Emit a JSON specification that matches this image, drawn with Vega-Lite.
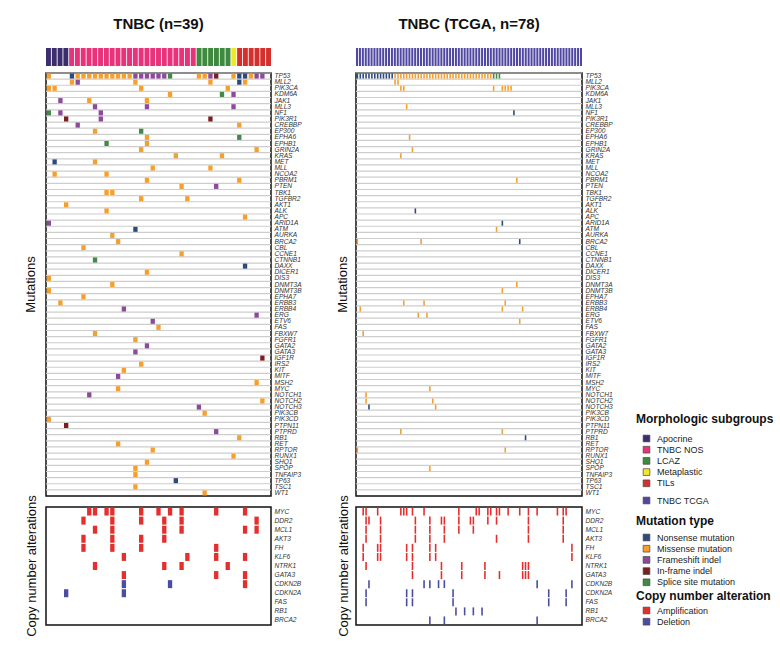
{
  "$schema": "https://vega.github.io/schema/vega-lite/v6.json",
  "padding": {"left": 24, "top": 17, "right": 5, "bottom": 5},
  "background": "white",
  "config": {
    "font": "Liberation Sans",
    "view": {"stroke": "#111111", "strokeWidth": 1.5},
    "axis": {"labelFont": "Liberation Sans", "labelFontStyle": "italic", "labelFontSize": 6.6, "labelColor": "#333333", "ticks": false, "domain": false, "grid": false, "labelPadding": 3, "title": null},
    "legend": {"titleFont": "Liberation Sans", "titleFontSize": 12, "titleFontWeight": "bold", "titleColor": "#111111", "labelFont": "Liberation Sans", "labelFontSize": 9, "labelColor": "#222222", "symbolType": "square", "symbolSize": 45, "symbolStrokeColor": "#444444", "symbolStrokeWidth": 0.7, "symbolOffset": 6, "labelOffset": 6, "rowPadding": 0.2, "titlePadding": 8, "orient": "none"},
    "title": {"font": "Liberation Sans", "color": "#111111"}
  },
  "datasets": {
    "morphL": [
      {"c":0,"grp":"Apocrine"},{"c":1,"grp":"Apocrine"},{"c":2,"grp":"Apocrine"},{"c":3,"grp":"Apocrine"},
      {"c":4,"grp":"TNBC NOS"},{"c":5,"grp":"TNBC NOS"},{"c":6,"grp":"TNBC NOS"},{"c":7,"grp":"TNBC NOS"},{"c":8,"grp":"TNBC NOS"},{"c":9,"grp":"TNBC NOS"},{"c":10,"grp":"TNBC NOS"},{"c":11,"grp":"TNBC NOS"},{"c":12,"grp":"TNBC NOS"},{"c":13,"grp":"TNBC NOS"},{"c":14,"grp":"TNBC NOS"},{"c":15,"grp":"TNBC NOS"},{"c":16,"grp":"TNBC NOS"},{"c":17,"grp":"TNBC NOS"},{"c":18,"grp":"TNBC NOS"},{"c":19,"grp":"TNBC NOS"},{"c":20,"grp":"TNBC NOS"},{"c":21,"grp":"TNBC NOS"},{"c":22,"grp":"TNBC NOS"},{"c":23,"grp":"TNBC NOS"},{"c":24,"grp":"TNBC NOS"},{"c":25,"grp":"TNBC NOS"},
      {"c":26,"grp":"LCAZ"},{"c":27,"grp":"LCAZ"},{"c":28,"grp":"LCAZ"},{"c":29,"grp":"LCAZ"},{"c":30,"grp":"LCAZ"},{"c":31,"grp":"LCAZ"},
      {"c":32,"grp":"Metaplastic"},
      {"c":33,"grp":"TILs"},{"c":34,"grp":"TILs"},{"c":35,"grp":"TILs"},{"c":36,"grp":"TILs"},{"c":37,"grp":"TILs"},{"c":38,"grp":"TILs"}
    ],
    "morphR": [
      {"c":0,"grp":"TNBC TCGA"},{"c":1,"grp":"TNBC TCGA"},{"c":2,"grp":"TNBC TCGA"},{"c":3,"grp":"TNBC TCGA"},{"c":4,"grp":"TNBC TCGA"},{"c":5,"grp":"TNBC TCGA"},{"c":6,"grp":"TNBC TCGA"},{"c":7,"grp":"TNBC TCGA"},{"c":8,"grp":"TNBC TCGA"},{"c":9,"grp":"TNBC TCGA"},
      {"c":10,"grp":"TNBC TCGA"},{"c":11,"grp":"TNBC TCGA"},{"c":12,"grp":"TNBC TCGA"},{"c":13,"grp":"TNBC TCGA"},{"c":14,"grp":"TNBC TCGA"},{"c":15,"grp":"TNBC TCGA"},{"c":16,"grp":"TNBC TCGA"},{"c":17,"grp":"TNBC TCGA"},{"c":18,"grp":"TNBC TCGA"},{"c":19,"grp":"TNBC TCGA"},
      {"c":20,"grp":"TNBC TCGA"},{"c":21,"grp":"TNBC TCGA"},{"c":22,"grp":"TNBC TCGA"},{"c":23,"grp":"TNBC TCGA"},{"c":24,"grp":"TNBC TCGA"},{"c":25,"grp":"TNBC TCGA"},{"c":26,"grp":"TNBC TCGA"},{"c":27,"grp":"TNBC TCGA"},{"c":28,"grp":"TNBC TCGA"},{"c":29,"grp":"TNBC TCGA"},
      {"c":30,"grp":"TNBC TCGA"},{"c":31,"grp":"TNBC TCGA"},{"c":32,"grp":"TNBC TCGA"},{"c":33,"grp":"TNBC TCGA"},{"c":34,"grp":"TNBC TCGA"},{"c":35,"grp":"TNBC TCGA"},{"c":36,"grp":"TNBC TCGA"},{"c":37,"grp":"TNBC TCGA"},{"c":38,"grp":"TNBC TCGA"},{"c":39,"grp":"TNBC TCGA"},
      {"c":40,"grp":"TNBC TCGA"},{"c":41,"grp":"TNBC TCGA"},{"c":42,"grp":"TNBC TCGA"},{"c":43,"grp":"TNBC TCGA"},{"c":44,"grp":"TNBC TCGA"},{"c":45,"grp":"TNBC TCGA"},{"c":46,"grp":"TNBC TCGA"},{"c":47,"grp":"TNBC TCGA"},{"c":48,"grp":"TNBC TCGA"},{"c":49,"grp":"TNBC TCGA"},
      {"c":50,"grp":"TNBC TCGA"},{"c":51,"grp":"TNBC TCGA"},{"c":52,"grp":"TNBC TCGA"},{"c":53,"grp":"TNBC TCGA"},{"c":54,"grp":"TNBC TCGA"},{"c":55,"grp":"TNBC TCGA"},{"c":56,"grp":"TNBC TCGA"},{"c":57,"grp":"TNBC TCGA"},{"c":58,"grp":"TNBC TCGA"},{"c":59,"grp":"TNBC TCGA"},
      {"c":60,"grp":"TNBC TCGA"},{"c":61,"grp":"TNBC TCGA"},{"c":62,"grp":"TNBC TCGA"},{"c":63,"grp":"TNBC TCGA"},{"c":64,"grp":"TNBC TCGA"},{"c":65,"grp":"TNBC TCGA"},{"c":66,"grp":"TNBC TCGA"},{"c":67,"grp":"TNBC TCGA"},{"c":68,"grp":"TNBC TCGA"},{"c":69,"grp":"TNBC TCGA"},
      {"c":70,"grp":"TNBC TCGA"},{"c":71,"grp":"TNBC TCGA"},{"c":72,"grp":"TNBC TCGA"},{"c":73,"grp":"TNBC TCGA"},{"c":74,"grp":"TNBC TCGA"},{"c":75,"grp":"TNBC TCGA"},{"c":76,"grp":"TNBC TCGA"},{"c":77,"grp":"TNBC TCGA"}
    ],
    "genes": [
      {"g":"TP53"},{"g":"MLL2"},{"g":"PIK3CA"},{"g":"KDM6A"},{"g":"JAK1"},{"g":"MLL3"},{"g":"NF1"},{"g":"PIK3R1"},{"g":"CREBBP"},{"g":"EP300"},{"g":"EPHA6"},{"g":"EPHB1"},{"g":"GRIN2A"},{"g":"KRAS"},{"g":"MET"},{"g":"MLL"},{"g":"NCOA2"},{"g":"PBRM1"},{"g":"PTEN"},{"g":"TBK1"},{"g":"TGFBR2"},{"g":"AKT1"},{"g":"ALK"},{"g":"APC"},{"g":"ARID1A"},{"g":"ATM"},{"g":"AURKA"},{"g":"BRCA2"},{"g":"CBL"},{"g":"CCNE1"},{"g":"CTNNB1"},{"g":"DAXX"},{"g":"DICER1"},{"g":"DIS3"},{"g":"DNMT3A"},{"g":"DNMT3B"},{"g":"EPHA7"},{"g":"ERBB3"},{"g":"ERBB4"},{"g":"ERG"},{"g":"ETV6"},{"g":"FAS"},{"g":"FBXW7"},{"g":"FGFR1"},{"g":"GATA2"},{"g":"GATA3"},{"g":"IGF1R"},{"g":"IRS2"},{"g":"KIT"},{"g":"MITF"},{"g":"MSH2"},{"g":"MYC"},{"g":"NOTCH1"},{"g":"NOTCH2"},{"g":"NOTCH3"},{"g":"PIK3CB"},{"g":"PIK3CD"},{"g":"PTPN11"},{"g":"PTPRD"},{"g":"RB1"},{"g":"RET"},{"g":"RPTOR"},{"g":"RUNX1"},{"g":"SHQ1"},{"g":"SPOP"},{"g":"TNFAIP3"},{"g":"TP63"},{"g":"TSC1"},{"g":"WT1"}
    ],
    "mutL": [
      {"g":"TP53","c":0,"t":"Missense mutation"},{"g":"TP53","c":4,"t":"Nonsense mutation"},{"g":"TP53","c":5,"t":"Missense mutation"},{"g":"TP53","c":6,"t":"Missense mutation"},{"g":"TP53","c":7,"t":"Missense mutation"},{"g":"TP53","c":8,"t":"Missense mutation"},{"g":"TP53","c":9,"t":"Missense mutation"},{"g":"TP53","c":10,"t":"Missense mutation"},{"g":"TP53","c":11,"t":"Missense mutation"},{"g":"TP53","c":12,"t":"Missense mutation"},{"g":"TP53","c":13,"t":"Missense mutation"},{"g":"TP53","c":14,"t":"Missense mutation"},
      {"g":"TP53","c":15,"t":"Frameshift indel"},{"g":"TP53","c":16,"t":"Frameshift indel"},{"g":"TP53","c":17,"t":"Frameshift indel"},{"g":"TP53","c":18,"t":"Frameshift indel"},{"g":"TP53","c":19,"t":"Frameshift indel"},{"g":"TP53","c":20,"t":"Frameshift indel"},{"g":"TP53","c":21,"t":"Splice site mutation"},
      {"g":"TP53","c":26,"t":"Missense mutation"},{"g":"TP53","c":27,"t":"Missense mutation"},{"g":"TP53","c":28,"t":"Frameshift indel"},{"g":"TP53","c":29,"t":"In-frame indel"},{"g":"TP53","c":32,"t":"Missense mutation"},{"g":"TP53","c":33,"t":"Nonsense mutation"},{"g":"TP53","c":34,"t":"Nonsense mutation"},{"g":"TP53","c":35,"t":"Missense mutation"},{"g":"TP53","c":36,"t":"Frameshift indel"},{"g":"TP53","c":37,"t":"Frameshift indel"},
      {"g":"MLL2","c":4,"t":"Missense mutation"},{"g":"MLL2","c":5,"t":"Frameshift indel"},{"g":"MLL2","c":15,"t":"Missense mutation"},{"g":"MLL2","c":28,"t":"Missense mutation"},{"g":"MLL2","c":33,"t":"Nonsense mutation"},{"g":"MLL2","c":34,"t":"Missense mutation"},
      {"g":"PIK3CA","c":0,"t":"Missense mutation"},{"g":"PIK3CA","c":1,"t":"Missense mutation"},{"g":"PIK3CA","c":16,"t":"Missense mutation"},{"g":"PIK3CA","c":31,"t":"Missense mutation"},
      {"g":"KDM6A","c":21,"t":"Missense mutation"},{"g":"KDM6A","c":30,"t":"Splice site mutation"},{"g":"KDM6A","c":32,"t":"Frameshift indel"},
      {"g":"JAK1","c":2,"t":"Frameshift indel"},{"g":"JAK1","c":7,"t":"Missense mutation"},{"g":"JAK1","c":17,"t":"Missense mutation"},
      {"g":"MLL3","c":8,"t":"Frameshift indel"},{"g":"MLL3","c":17,"t":"Frameshift indel"},{"g":"MLL3","c":32,"t":"Frameshift indel"},
      {"g":"NF1","c":0,"t":"Splice site mutation"},{"g":"NF1","c":2,"t":"Frameshift indel"},{"g":"NF1","c":9,"t":"Frameshift indel"},
      {"g":"PIK3R1","c":3,"t":"In-frame indel"},{"g":"PIK3R1","c":9,"t":"Frameshift indel"},{"g":"PIK3R1","c":28,"t":"In-frame indel"},
      {"g":"CREBBP","c":5,"t":"Frameshift indel"},{"g":"CREBBP","c":33,"t":"Missense mutation"},
      {"g":"EP300","c":8,"t":"Missense mutation"},{"g":"EP300","c":16,"t":"Splice site mutation"},
      {"g":"EPHA6","c":17,"t":"Missense mutation"},{"g":"EPHA6","c":33,"t":"Splice site mutation"},
      {"g":"EPHB1","c":10,"t":"Splice site mutation"},{"g":"EPHB1","c":17,"t":"Missense mutation"},
      {"g":"GRIN2A","c":16,"t":"Missense mutation"},{"g":"GRIN2A","c":36,"t":"Missense mutation"},
      {"g":"KRAS","c":22,"t":"Missense mutation"},{"g":"KRAS","c":30,"t":"Missense mutation"},
      {"g":"MET","c":1,"t":"Nonsense mutation"},{"g":"MET","c":8,"t":"Missense mutation"},
      {"g":"MLL","c":18,"t":"Missense mutation"},{"g":"MLL","c":28,"t":"Missense mutation"},
      {"g":"NCOA2","c":1,"t":"Missense mutation"},{"g":"NCOA2","c":10,"t":"Missense mutation"},
      {"g":"PBRM1","c":17,"t":"Missense mutation"},{"g":"PBRM1","c":33,"t":"Missense mutation"},
      {"g":"PTEN","c":23,"t":"Missense mutation"},{"g":"PTEN","c":29,"t":"Frameshift indel"},
      {"g":"TBK1","c":10,"t":"Missense mutation"},{"g":"TBK1","c":11,"t":"Missense mutation"},
      {"g":"TGFBR2","c":16,"t":"Missense mutation"},{"g":"TGFBR2","c":24,"t":"Missense mutation"},
      {"g":"AKT1","c":3,"t":"Missense mutation"},
      {"g":"ALK","c":10,"t":"Missense mutation"},
      {"g":"APC","c":34,"t":"Missense mutation"},
      {"g":"ARID1A","c":0,"t":"Frameshift indel"},
      {"g":"ATM","c":15,"t":"Nonsense mutation"},
      {"g":"AURKA","c":11,"t":"Missense mutation"},
      {"g":"BRCA2","c":12,"t":"Missense mutation"},
      {"g":"CBL","c":6,"t":"Missense mutation"},
      {"g":"CCNE1","c":23,"t":"Missense mutation"},
      {"g":"CTNNB1","c":8,"t":"Splice site mutation"},
      {"g":"DAXX","c":34,"t":"Nonsense mutation"},
      {"g":"DICER1","c":17,"t":"Missense mutation"},
      {"g":"DIS3","c":0,"t":"Missense mutation"},
      {"g":"DNMT3A","c":11,"t":"Missense mutation"},
      {"g":"DNMT3B","c":0,"t":"Missense mutation"},
      {"g":"EPHA7","c":6,"t":"Missense mutation"},
      {"g":"ERBB3","c":2,"t":"Missense mutation"},
      {"g":"ERBB4","c":13,"t":"Frameshift indel"},
      {"g":"ERG","c":36,"t":"Frameshift indel"},
      {"g":"ETV6","c":18,"t":"Frameshift indel"},
      {"g":"FAS","c":19,"t":"Missense mutation"},
      {"g":"FBXW7","c":8,"t":"Missense mutation"},
      {"g":"FGFR1","c":15,"t":"Missense mutation"},
      {"g":"GATA2","c":17,"t":"Frameshift indel"},
      {"g":"GATA3","c":15,"t":"Frameshift indel"},
      {"g":"IGF1R","c":37,"t":"In-frame indel"},
      {"g":"IRS2","c":16,"t":"Missense mutation"},
      {"g":"KIT","c":13,"t":"Missense mutation"},
      {"g":"MITF","c":12,"t":"Frameshift indel"},
      {"g":"MSH2","c":36,"t":"Missense mutation"},
      {"g":"MYC","c":12,"t":"Missense mutation"},
      {"g":"NOTCH1","c":7,"t":"Frameshift indel"},
      {"g":"NOTCH2","c":37,"t":"Missense mutation"},
      {"g":"NOTCH3","c":26,"t":"Frameshift indel"},
      {"g":"PIK3CB","c":27,"t":"Missense mutation"},
      {"g":"PIK3CD","c":0,"t":"Missense mutation"},
      {"g":"PTPN11","c":3,"t":"In-frame indel"},
      {"g":"PTPRD","c":29,"t":"Frameshift indel"},
      {"g":"RB1","c":33,"t":"Missense mutation"},
      {"g":"RET","c":12,"t":"Missense mutation"},
      {"g":"RPTOR","c":18,"t":"Missense mutation"},
      {"g":"RUNX1","c":32,"t":"Missense mutation"},
      {"g":"SHQ1","c":17,"t":"Missense mutation"},
      {"g":"SPOP","c":15,"t":"Missense mutation"},
      {"g":"TNFAIP3","c":15,"t":"Missense mutation"},
      {"g":"TP63","c":22,"t":"Nonsense mutation"},
      {"g":"TSC1","c":15,"t":"Missense mutation"},
      {"g":"WT1","c":27,"t":"Missense mutation"}
    ],
    "mutR": [
      {"g":"TP53","c":0,"t":"Nonsense mutation"},{"g":"TP53","c":1,"t":"Nonsense mutation"},{"g":"TP53","c":2,"t":"Nonsense mutation"},{"g":"TP53","c":3,"t":"Nonsense mutation"},{"g":"TP53","c":4,"t":"Nonsense mutation"},{"g":"TP53","c":5,"t":"Nonsense mutation"},{"g":"TP53","c":6,"t":"Nonsense mutation"},{"g":"TP53","c":7,"t":"Nonsense mutation"},{"g":"TP53","c":8,"t":"Nonsense mutation"},{"g":"TP53","c":9,"t":"Nonsense mutation"},{"g":"TP53","c":10,"t":"Nonsense mutation"},{"g":"TP53","c":11,"t":"Nonsense mutation"},{"g":"TP53","c":12,"t":"Nonsense mutation"},
      {"g":"TP53","c":13,"t":"Missense mutation"},{"g":"TP53","c":14,"t":"Missense mutation"},{"g":"TP53","c":15,"t":"Missense mutation"},{"g":"TP53","c":16,"t":"Missense mutation"},{"g":"TP53","c":17,"t":"Missense mutation"},{"g":"TP53","c":18,"t":"Missense mutation"},{"g":"TP53","c":19,"t":"Missense mutation"},{"g":"TP53","c":20,"t":"Missense mutation"},{"g":"TP53","c":21,"t":"Missense mutation"},{"g":"TP53","c":22,"t":"Missense mutation"},{"g":"TP53","c":23,"t":"Missense mutation"},{"g":"TP53","c":24,"t":"Missense mutation"},{"g":"TP53","c":25,"t":"Missense mutation"},{"g":"TP53","c":26,"t":"Missense mutation"},{"g":"TP53","c":27,"t":"Missense mutation"},{"g":"TP53","c":28,"t":"Missense mutation"},{"g":"TP53","c":29,"t":"Missense mutation"},
      {"g":"TP53","c":30,"t":"Missense mutation"},{"g":"TP53","c":31,"t":"Missense mutation"},{"g":"TP53","c":32,"t":"Missense mutation"},{"g":"TP53","c":33,"t":"Missense mutation"},{"g":"TP53","c":34,"t":"Missense mutation"},{"g":"TP53","c":35,"t":"Missense mutation"},{"g":"TP53","c":36,"t":"Missense mutation"},{"g":"TP53","c":37,"t":"Missense mutation"},{"g":"TP53","c":38,"t":"Missense mutation"},{"g":"TP53","c":39,"t":"Missense mutation"},{"g":"TP53","c":40,"t":"Missense mutation"},{"g":"TP53","c":41,"t":"Missense mutation"},{"g":"TP53","c":42,"t":"Missense mutation"},{"g":"TP53","c":43,"t":"Missense mutation"},{"g":"TP53","c":44,"t":"Missense mutation"},{"g":"TP53","c":45,"t":"Missense mutation"},{"g":"TP53","c":46,"t":"Missense mutation"},
      {"g":"TP53","c":47,"t":"Splice site mutation"},{"g":"TP53","c":48,"t":"Splice site mutation"},{"g":"TP53","c":49,"t":"Splice site mutation"},
      {"g":"MLL2","c":13,"t":"Missense mutation"},{"g":"MLL2","c":14,"t":"Missense mutation"},
      {"g":"PIK3CA","c":15,"t":"Missense mutation"},{"g":"PIK3CA","c":16,"t":"Missense mutation"},{"g":"PIK3CA","c":47,"t":"Missense mutation"},{"g":"PIK3CA","c":50,"t":"Missense mutation"},{"g":"PIK3CA","c":51,"t":"Missense mutation"},{"g":"PIK3CA","c":52,"t":"Missense mutation"},{"g":"PIK3CA","c":53,"t":"Missense mutation"},
      {"g":"MLL3","c":17,"t":"Missense mutation"},
      {"g":"NF1","c":54,"t":"Nonsense mutation"},
      {"g":"EPHA6","c":18,"t":"Missense mutation"},
      {"g":"GRIN2A","c":19,"t":"Missense mutation"},
      {"g":"KRAS","c":15,"t":"Missense mutation"},
      {"g":"PBRM1","c":55,"t":"Missense mutation"},
      {"g":"ALK","c":20,"t":"Nonsense mutation"},
      {"g":"ARID1A","c":50,"t":"Nonsense mutation"},
      {"g":"ATM","c":48,"t":"Missense mutation"},
      {"g":"BRCA2","c":0,"t":"Missense mutation"},{"g":"BRCA2","c":22,"t":"Missense mutation"},{"g":"BRCA2","c":56,"t":"Nonsense mutation"},
      {"g":"DNMT3A","c":55,"t":"Missense mutation"},
      {"g":"DNMT3B","c":50,"t":"Missense mutation"},
      {"g":"ERBB3","c":16,"t":"Missense mutation"},{"g":"ERBB3","c":23,"t":"Missense mutation"},{"g":"ERBB3","c":51,"t":"Missense mutation"},
      {"g":"ERBB4","c":1,"t":"Missense mutation"},{"g":"ERBB4","c":50,"t":"Missense mutation"},{"g":"ERBB4","c":57,"t":"Missense mutation"},
      {"g":"ERG","c":21,"t":"Missense mutation"},{"g":"ERG","c":24,"t":"Missense mutation"},
      {"g":"ETV6","c":56,"t":"Missense mutation"},
      {"g":"FBXW7","c":2,"t":"Missense mutation"},
      {"g":"MYC","c":25,"t":"Missense mutation"},
      {"g":"NOTCH1","c":3,"t":"Missense mutation"},
      {"g":"NOTCH2","c":3,"t":"Missense mutation"},{"g":"NOTCH2","c":26,"t":"Missense mutation"},
      {"g":"NOTCH3","c":4,"t":"Nonsense mutation"},{"g":"NOTCH3","c":27,"t":"Missense mutation"},
      {"g":"PTPRD","c":15,"t":"Missense mutation"},{"g":"PTPRD","c":50,"t":"Missense mutation"},
      {"g":"RB1","c":58,"t":"Nonsense mutation"},
      {"g":"RPTOR","c":0,"t":"Missense mutation"},{"g":"RPTOR","c":51,"t":"Missense mutation"},
      {"g":"SPOP","c":25,"t":"Missense mutation"}
    ],
    "cnaL": [
      {"g":"MYC","c":7,"t":"Amplification"},{"g":"MYC","c":8,"t":"Amplification"},{"g":"MYC","c":10,"t":"Amplification"},{"g":"MYC","c":11,"t":"Amplification"},{"g":"MYC","c":16,"t":"Amplification"},{"g":"MYC","c":19,"t":"Amplification"},{"g":"MYC","c":21,"t":"Amplification"},{"g":"MYC","c":23,"t":"Amplification"},{"g":"MYC","c":29,"t":"Amplification"},{"g":"MYC","c":34,"t":"Amplification"},
      {"g":"DDR2","c":6,"t":"Amplification"},{"g":"DDR2","c":11,"t":"Amplification"},{"g":"DDR2","c":16,"t":"Amplification"},{"g":"DDR2","c":20,"t":"Amplification"},{"g":"DDR2","c":23,"t":"Amplification"},{"g":"DDR2","c":36,"t":"Amplification"},
      {"g":"MCL1","c":8,"t":"Amplification"},{"g":"MCL1","c":11,"t":"Amplification"},{"g":"MCL1","c":20,"t":"Amplification"},{"g":"MCL1","c":23,"t":"Amplification"},{"g":"MCL1","c":34,"t":"Amplification"},{"g":"MCL1","c":36,"t":"Amplification"},
      {"g":"AKT3","c":6,"t":"Amplification"},{"g":"AKT3","c":11,"t":"Amplification"},{"g":"AKT3","c":16,"t":"Amplification"},{"g":"AKT3","c":20,"t":"Amplification"},
      {"g":"FH","c":6,"t":"Amplification"},{"g":"FH","c":11,"t":"Amplification"},{"g":"FH","c":16,"t":"Amplification"},{"g":"FH","c":29,"t":"Amplification"},
      {"g":"KLF6","c":13,"t":"Amplification"},{"g":"KLF6","c":24,"t":"Amplification"},{"g":"KLF6","c":29,"t":"Amplification"},{"g":"KLF6","c":34,"t":"Amplification"},
      {"g":"NTRK1","c":8,"t":"Amplification"},{"g":"NTRK1","c":20,"t":"Amplification"},{"g":"NTRK1","c":23,"t":"Amplification"},{"g":"NTRK1","c":31,"t":"Amplification"},
      {"g":"GATA3","c":13,"t":"Amplification"},{"g":"GATA3","c":29,"t":"Amplification"},{"g":"GATA3","c":34,"t":"Amplification"},
      {"g":"CDKN2B","c":13,"t":"Deletion"},{"g":"CDKN2B","c":21,"t":"Deletion"},{"g":"CDKN2B","c":34,"t":"Amplification"},
      {"g":"CDKN2A","c":3,"t":"Deletion"},{"g":"CDKN2A","c":13,"t":"Deletion"}
    ],
    "cnaR": [
      {"g":"MYC","c":2,"t":"Amplification"},{"g":"MYC","c":3,"t":"Amplification"},{"g":"MYC","c":7,"t":"Amplification"},{"g":"MYC","c":15,"t":"Amplification"},{"g":"MYC","c":16,"t":"Amplification"},{"g":"MYC","c":17,"t":"Amplification"},{"g":"MYC","c":19,"t":"Amplification"},{"g":"MYC","c":23,"t":"Amplification"},{"g":"MYC","c":35,"t":"Amplification"},{"g":"MYC","c":41,"t":"Amplification"},{"g":"MYC","c":42,"t":"Amplification"},{"g":"MYC","c":45,"t":"Amplification"},{"g":"MYC","c":46,"t":"Amplification"},{"g":"MYC","c":48,"t":"Amplification"},{"g":"MYC","c":49,"t":"Amplification"},{"g":"MYC","c":52,"t":"Amplification"},{"g":"MYC","c":56,"t":"Amplification"},{"g":"MYC","c":59,"t":"Amplification"},{"g":"MYC","c":62,"t":"Amplification"},{"g":"MYC","c":69,"t":"Amplification"},{"g":"MYC","c":71,"t":"Amplification"},{"g":"MYC","c":72,"t":"Amplification"},
      {"g":"DDR2","c":3,"t":"Amplification"},{"g":"DDR2","c":4,"t":"Amplification"},{"g":"DDR2","c":8,"t":"Amplification"},{"g":"DDR2","c":20,"t":"Amplification"},{"g":"DDR2","c":25,"t":"Amplification"},{"g":"DDR2","c":29,"t":"Amplification"},{"g":"DDR2","c":30,"t":"Amplification"},{"g":"DDR2","c":35,"t":"Amplification"},{"g":"DDR2","c":39,"t":"Amplification"},{"g":"DDR2","c":40,"t":"Amplification"},{"g":"DDR2","c":45,"t":"Amplification"},{"g":"DDR2","c":48,"t":"Amplification"},{"g":"DDR2","c":59,"t":"Amplification"},{"g":"DDR2","c":71,"t":"Amplification"},
      {"g":"MCL1","c":3,"t":"Amplification"},{"g":"MCL1","c":8,"t":"Amplification"},{"g":"MCL1","c":20,"t":"Amplification"},{"g":"MCL1","c":25,"t":"Amplification"},{"g":"MCL1","c":30,"t":"Amplification"},{"g":"MCL1","c":35,"t":"Amplification"},{"g":"MCL1","c":40,"t":"Amplification"},{"g":"MCL1","c":59,"t":"Amplification"},{"g":"MCL1","c":71,"t":"Amplification"},
      {"g":"AKT3","c":3,"t":"Amplification"},{"g":"AKT3","c":8,"t":"Amplification"},{"g":"AKT3","c":20,"t":"Amplification"},{"g":"AKT3","c":25,"t":"Amplification"},{"g":"AKT3","c":30,"t":"Amplification"},{"g":"AKT3","c":48,"t":"Amplification"},{"g":"AKT3","c":59,"t":"Amplification"},{"g":"AKT3","c":71,"t":"Amplification"},
      {"g":"FH","c":2,"t":"Amplification"},{"g":"FH","c":7,"t":"Amplification"},{"g":"FH","c":8,"t":"Amplification"},{"g":"FH","c":17,"t":"Amplification"},{"g":"FH","c":19,"t":"Amplification"},{"g":"FH","c":25,"t":"Amplification"},{"g":"FH","c":27,"t":"Amplification"},{"g":"FH","c":74,"t":"Amplification"},
      {"g":"KLF6","c":2,"t":"Amplification"},{"g":"KLF6","c":7,"t":"Amplification"},{"g":"KLF6","c":8,"t":"Amplification"},{"g":"KLF6","c":17,"t":"Amplification"},{"g":"KLF6","c":19,"t":"Amplification"},{"g":"KLF6","c":25,"t":"Amplification"},{"g":"KLF6","c":27,"t":"Amplification"},{"g":"KLF6","c":74,"t":"Amplification"},
      {"g":"NTRK1","c":3,"t":"Amplification"},{"g":"NTRK1","c":19,"t":"Amplification"},{"g":"NTRK1","c":29,"t":"Amplification"},{"g":"NTRK1","c":36,"t":"Amplification"},{"g":"NTRK1","c":44,"t":"Amplification"},{"g":"NTRK1","c":57,"t":"Amplification"},{"g":"NTRK1","c":58,"t":"Amplification"},{"g":"NTRK1","c":59,"t":"Amplification"},
      {"g":"GATA3","c":19,"t":"Amplification"},{"g":"GATA3","c":29,"t":"Amplification"},{"g":"GATA3","c":36,"t":"Amplification"},{"g":"GATA3","c":44,"t":"Amplification"},{"g":"GATA3","c":49,"t":"Amplification"},{"g":"GATA3","c":57,"t":"Amplification"},{"g":"GATA3","c":58,"t":"Amplification"},{"g":"GATA3","c":59,"t":"Amplification"},
      {"g":"CDKN2B","c":4,"t":"Deletion"},{"g":"CDKN2B","c":23,"t":"Deletion"},{"g":"CDKN2B","c":25,"t":"Deletion"},{"g":"CDKN2B","c":28,"t":"Deletion"},{"g":"CDKN2B","c":30,"t":"Deletion"},{"g":"CDKN2B","c":62,"t":"Deletion"},{"g":"CDKN2B","c":74,"t":"Deletion"},
      {"g":"CDKN2A","c":3,"t":"Deletion"},{"g":"CDKN2A","c":17,"t":"Deletion"},{"g":"CDKN2A","c":19,"t":"Deletion"},{"g":"CDKN2A","c":33,"t":"Deletion"},{"g":"CDKN2A","c":66,"t":"Deletion"},{"g":"CDKN2A","c":72,"t":"Deletion"},
      {"g":"FAS","c":3,"t":"Deletion"},{"g":"FAS","c":17,"t":"Deletion"},{"g":"FAS","c":19,"t":"Deletion"},{"g":"FAS","c":33,"t":"Deletion"},{"g":"FAS","c":66,"t":"Deletion"},{"g":"FAS","c":72,"t":"Deletion"},
      {"g":"RB1","c":34,"t":"Deletion"},{"g":"RB1","c":37,"t":"Deletion"},{"g":"RB1","c":40,"t":"Deletion"},{"g":"RB1","c":43,"t":"Deletion"},
      {"g":"BRCA2","c":25,"t":"Deletion"},{"g":"BRCA2","c":30,"t":"Deletion"},{"g":"BRCA2","c":62,"t":"Deletion"}
    ]
  },
  "hconcat": [
    {
      "vconcat": [
        {
          "data": {"name": "morphL"},
          "width": 225, "height": 18,
          "view": {"stroke": null},
          "title": {"text": "TNBC (n=39)", "fontSize": 15, "fontWeight": "bold", "anchor": "middle", "offset": 16},
          "mark": {"type": "rect"},
          "encoding": {
            "x": {"field": "c", "type": "ordinal", "axis": null, "scale": {"paddingInner": 0.15, "paddingOuter": 0}},
            "color": {"field": "grp", "type": "nominal", "legend": null,
              "scale": {"domain": ["Apocrine", "TNBC NOS", "LCAZ", "Metaplastic", "TILs"], "range": ["#3b2d6e", "#e8327a", "#3e8a3e", "#f3e827", "#d4302e"]}}
          }
        },
        {
          "vconcat": [
            {
              "width": 225, "height": 423,
              "title": {"text": "Mutations", "orient": "left", "anchor": "middle", "fontSize": 13, "fontWeight": "normal", "offset": 7},
              "layer": [
                {
                  "data": {"name": "genes"},
                  "mark": {"type": "rule", "color": "#cdcdcd", "strokeWidth": 1.2, "yOffset": -0.55},
                  "encoding": {
                    "y": {"field": "g", "type": "nominal", "bandPosition": 0, "scale": {"domain": ["TP53","MLL2","PIK3CA","KDM6A","JAK1","MLL3","NF1","PIK3R1","CREBBP","EP300","EPHA6","EPHB1","GRIN2A","KRAS","MET","MLL","NCOA2","PBRM1","PTEN","TBK1","TGFBR2","AKT1","ALK","APC","ARID1A","ATM","AURKA","BRCA2","CBL","CCNE1","CTNNB1","DAXX","DICER1","DIS3","DNMT3A","DNMT3B","EPHA7","ERBB3","ERBB4","ERG","ETV6","FAS","FBXW7","FGFR1","GATA2","GATA3","IGF1R","IRS2","KIT","MITF","MSH2","MYC","NOTCH1","NOTCH2","NOTCH3","PIK3CB","PIK3CD","PTPN11","PTPRD","RB1","RET","RPTOR","RUNX1","SHQ1","SPOP","TNFAIP3","TP63","TSC1","WT1"], "paddingInner": 0.18, "paddingOuter": 0.09}, "axis": {"orient": "right"}}
                  }
                },
                {
                  "data": {"name": "mutL"},
                  "mark": {"type": "rect"},
                  "encoding": {
                    "x": {"field": "c", "type": "ordinal", "axis": null, "scale": {"domain": [0,1,2,3,4,5,6,7,8,9,10,11,12,13,14,15,16,17,18,19,20,21,22,23,24,25,26,27,28,29,30,31,32,33,34,35,36,37,38], "paddingInner": 0.25, "paddingOuter": 0.12}},
                    "y": {"field": "g", "type": "nominal", "scale": {"domain": ["TP53","MLL2","PIK3CA","KDM6A","JAK1","MLL3","NF1","PIK3R1","CREBBP","EP300","EPHA6","EPHB1","GRIN2A","KRAS","MET","MLL","NCOA2","PBRM1","PTEN","TBK1","TGFBR2","AKT1","ALK","APC","ARID1A","ATM","AURKA","BRCA2","CBL","CCNE1","CTNNB1","DAXX","DICER1","DIS3","DNMT3A","DNMT3B","EPHA7","ERBB3","ERBB4","ERG","ETV6","FAS","FBXW7","FGFR1","GATA2","GATA3","IGF1R","IRS2","KIT","MITF","MSH2","MYC","NOTCH1","NOTCH2","NOTCH3","PIK3CB","PIK3CD","PTPN11","PTPRD","RB1","RET","RPTOR","RUNX1","SHQ1","SPOP","TNFAIP3","TP63","TSC1","WT1"], "paddingInner": 0.18, "paddingOuter": 0.09}, "axis": {"orient": "right"}},
                    "color": {"field": "t", "type": "nominal", "legend": null,
                      "scale": {"domain": ["Nonsense mutation", "Missense mutation", "Frameshift indel", "In-frame indel", "Splice site mutation"], "range": ["#2d4a7e", "#f5a02c", "#8c4a9a", "#7b1e1e", "#3f8a46"]}}
                  }
                }
              ]
            },
            {
              "data": {"name": "cnaL"},
              "width": 225, "height": 118,
              "title": {"text": "Copy number alterations", "orient": "left", "anchor": "middle", "fontSize": 13, "fontWeight": "normal", "offset": 7},
              "mark": {"type": "rect"},
              "encoding": {
                "x": {"field": "c", "type": "ordinal", "axis": null, "scale": {"domain": [0,1,2,3,4,5,6,7,8,9,10,11,12,13,14,15,16,17,18,19,20,21,22,23,24,25,26,27,28,29,30,31,32,33,34,35,36,37,38], "paddingInner": 0.25, "paddingOuter": 0.12}},
                "y": {"field": "g", "type": "nominal", "scale": {"domain": ["MYC","DDR2","MCL1","AKT3","FH","KLF6","NTRK1","GATA3","CDKN2B","CDKN2A","FAS","RB1","BRCA2"], "paddingInner": 0.12, "paddingOuter": 0.06}, "axis": {"orient": "right"}},
                "color": {"field": "t", "type": "nominal", "legend": null,
                  "scale": {"domain": ["Amplification", "Deletion"], "range": ["#e3302f", "#4b4ea0"]}}
              }
            }
          ],
          "spacing": 11,
          "bounds": "flush",
          "resolve": {"scale": {"color": "independent", "x": "independent", "y": "independent"}, "legend": {"color": "independent"}}
        }
      ],
      "spacing": 7,
      "bounds": "flush",
      "resolve": {"scale": {"color": "independent", "x": "independent", "y": "independent"}, "legend": {"color": "independent"}}
    },
    {
      "vconcat": [
        {
          "width": 226, "height": 18,
          "view": {"stroke": null},
          "title": {"text": "TNBC (TCGA, n=78)", "fontSize": 15, "fontWeight": "bold", "anchor": "middle", "offset": 16},
          "layer": [
            {
              "data": {"name": "morphR"},
              "mark": {"type": "rect"},
              "encoding": {
                "x": {"field": "c", "type": "ordinal", "axis": null, "scale": {"paddingInner": 0.3, "paddingOuter": 0}},
                "color": {"field": "grp", "type": "nominal", "title": null,
                  "scale": {"domain": ["TNBC TCGA"], "range": ["#4f47a0"]},
                  "legend": {"orient": "none", "legendX": 280, "legendY": 448}}
              }
            },
            {
              "data": {"name": "morphL"},
              "transform": [{"filter": "datum.c < 0"}],
              "mark": {"type": "rect"},
              "encoding": {
                "color": {"field": "grp", "type": "nominal", "title": "Morphologic subgroups",
                  "scale": {"domain": ["Apocrine", "TNBC NOS", "LCAZ", "Metaplastic", "TILs"], "range": ["#3b2d6e", "#e8327a", "#3e8a3e", "#f3e827", "#d4302e"]},
                  "legend": {"orient": "none", "legendX": 280, "legendY": 366, "titlePadding": 8}}
              }
            }
          ],
          "resolve": {"scale": {"color": "independent"}, "legend": {"color": "independent"}}
        },
        {
          "vconcat": [
            {
              "width": 226, "height": 423,
              "title": {"text": "Mutations", "orient": "left", "anchor": "middle", "fontSize": 13, "fontWeight": "normal", "offset": 5},
              "layer": [
                {
                  "data": {"name": "genes"},
                  "mark": {"type": "rule", "color": "#cdcdcd", "strokeWidth": 1.2, "yOffset": -0.55},
                  "encoding": {
                    "y": {"field": "g", "type": "nominal", "bandPosition": 0, "scale": {"domain": ["TP53","MLL2","PIK3CA","KDM6A","JAK1","MLL3","NF1","PIK3R1","CREBBP","EP300","EPHA6","EPHB1","GRIN2A","KRAS","MET","MLL","NCOA2","PBRM1","PTEN","TBK1","TGFBR2","AKT1","ALK","APC","ARID1A","ATM","AURKA","BRCA2","CBL","CCNE1","CTNNB1","DAXX","DICER1","DIS3","DNMT3A","DNMT3B","EPHA7","ERBB3","ERBB4","ERG","ETV6","FAS","FBXW7","FGFR1","GATA2","GATA3","IGF1R","IRS2","KIT","MITF","MSH2","MYC","NOTCH1","NOTCH2","NOTCH3","PIK3CB","PIK3CD","PTPN11","PTPRD","RB1","RET","RPTOR","RUNX1","SHQ1","SPOP","TNFAIP3","TP63","TSC1","WT1"], "paddingInner": 0.18, "paddingOuter": 0.09}, "axis": {"orient": "right"}}
                  }
                },
                {
                  "data": {"name": "mutR"},
                  "mark": {"type": "rect"},
                  "encoding": {
                    "x": {"field": "c", "type": "ordinal", "axis": null, "scale": {"domain": [0,1,2,3,4,5,6,7,8,9,10,11,12,13,14,15,16,17,18,19,20,21,22,23,24,25,26,27,28,29,30,31,32,33,34,35,36,37,38,39,40,41,42,43,44,45,46,47,48,49,50,51,52,53,54,55,56,57,58,59,60,61,62,63,64,65,66,67,68,69,70,71,72,73,74,75,76,77], "paddingInner": 0.45, "paddingOuter": 0.2}},
                    "y": {"field": "g", "type": "nominal", "scale": {"domain": ["TP53","MLL2","PIK3CA","KDM6A","JAK1","MLL3","NF1","PIK3R1","CREBBP","EP300","EPHA6","EPHB1","GRIN2A","KRAS","MET","MLL","NCOA2","PBRM1","PTEN","TBK1","TGFBR2","AKT1","ALK","APC","ARID1A","ATM","AURKA","BRCA2","CBL","CCNE1","CTNNB1","DAXX","DICER1","DIS3","DNMT3A","DNMT3B","EPHA7","ERBB3","ERBB4","ERG","ETV6","FAS","FBXW7","FGFR1","GATA2","GATA3","IGF1R","IRS2","KIT","MITF","MSH2","MYC","NOTCH1","NOTCH2","NOTCH3","PIK3CB","PIK3CD","PTPN11","PTPRD","RB1","RET","RPTOR","RUNX1","SHQ1","SPOP","TNFAIP3","TP63","TSC1","WT1"], "paddingInner": 0.18, "paddingOuter": 0.09}, "axis": {"orient": "right"}},
                    "color": {"field": "t", "type": "nominal", "title": "Mutation type",
                      "scale": {"domain": ["Nonsense mutation", "Missense mutation", "Frameshift indel", "In-frame indel", "Splice site mutation"], "range": ["#2d4a7e", "#f5a02c", "#8c4a9a", "#7b1e1e", "#3f8a46"]},
                      "legend": {"orient": "none", "legendX": 280, "legendY": 443, "titlePadding": 5}}
                  }
                }
              ]
            },
            {
              "data": {"name": "cnaR"},
              "width": 226, "height": 118,
              "title": {"text": "Copy number alterations", "orient": "left", "anchor": "middle", "fontSize": 13, "fontWeight": "normal", "offset": 5},
              "mark": {"type": "rect"},
              "encoding": {
                "x": {"field": "c", "type": "ordinal", "axis": null, "scale": {"domain": [0,1,2,3,4,5,6,7,8,9,10,11,12,13,14,15,16,17,18,19,20,21,22,23,24,25,26,27,28,29,30,31,32,33,34,35,36,37,38,39,40,41,42,43,44,45,46,47,48,49,50,51,52,53,54,55,56,57,58,59,60,61,62,63,64,65,66,67,68,69,70,71,72,73,74,75,76,77], "paddingInner": 0.45, "paddingOuter": 0.2}},
                "y": {"field": "g", "type": "nominal", "scale": {"domain": ["MYC","DDR2","MCL1","AKT3","FH","KLF6","NTRK1","GATA3","CDKN2B","CDKN2A","FAS","RB1","BRCA2"], "paddingInner": 0.12, "paddingOuter": 0.06}, "axis": {"orient": "right"}},
                "color": {"field": "t", "type": "nominal", "title": "Copy number alteration",
                  "scale": {"domain": ["Amplification", "Deletion"], "range": ["#e3302f", "#4b4ea0"]},
                  "legend": {"orient": "none", "legendX": 280, "legendY": 84, "titlePadding": 3}}
              }
            }
          ],
          "spacing": 11,
          "bounds": "flush",
          "resolve": {"scale": {"color": "independent", "x": "independent", "y": "independent"}, "legend": {"color": "independent"}}
        }
      ],
      "spacing": 7,
      "bounds": "flush",
      "resolve": {"scale": {"color": "independent", "x": "independent", "y": "independent"}, "legend": {"color": "independent"}}
    }
  ],
  "spacing": 34,
  "bounds": "full",
  "resolve": {"scale": {"color": "independent", "x": "independent", "y": "independent"}, "legend": {"color": "independent"}}
}
